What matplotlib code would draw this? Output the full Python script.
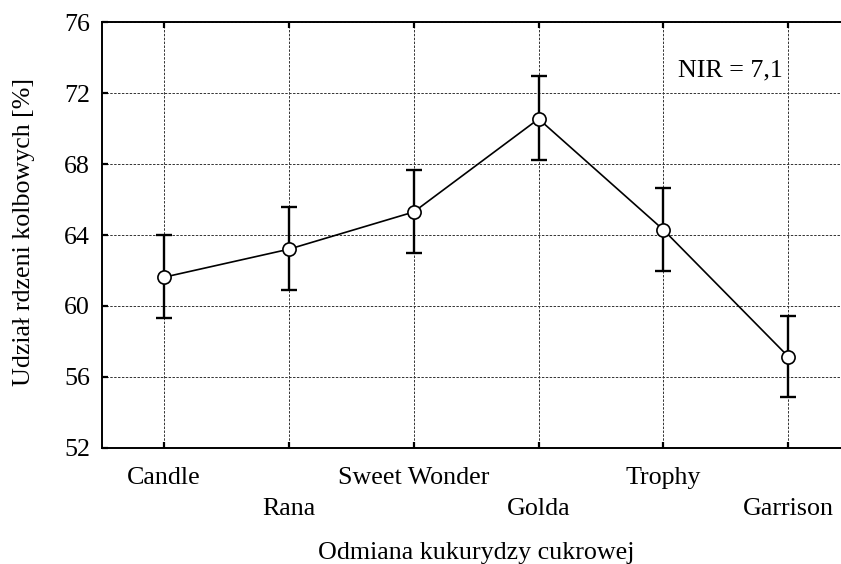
import matplotlib
matplotlib.use("Agg")
import matplotlib.pyplot as plt
import numpy as np

categories = ["Candle", "Rana", "Sweet Wonder", "Golda", "Trophy", "Garrison"]
means = [61.62, 63.2, 65.3, 70.55, 64.29, 57.14]
err_low = [2.3, 2.3, 2.3, 2.3, 2.3, 2.3]
err_high = [2.38, 2.4, 2.35, 2.42, 2.36, 2.3]
yticks = [52, 56, 60, 64, 68, 72, 76]
nir_text = "NIR = 7,1"
xlabel = "Odmiana kukurydzy cukrowej"
ylabel = "Udział rdzeni kolbowych [%]"

plt.rcParams['font.family'] = ['Liberation Serif', 'DejaVu Serif']
FS = 18.7
plt.rcParams['font.size'] = FS

fig = plt.figure(figsize=(8.41, 5.64), dpi=100)
ax = fig.add_axes([101.7/841, 1 - 447.7/564, 749/841, 425.4/564])

x = np.arange(len(categories))
ax.errorbar(x, means, yerr=[err_low, err_high], fmt='none', ecolor='black',
            elinewidth=1.7, capsize=5.5, capthick=1.7, zorder=3)
ax.plot(x, means, color='black', lw=1.2, marker='o', markersize=9.5,
        markerfacecolor='white', markeredgecolor='black', markeredgewidth=1.2, zorder=4)

ax.set_xlim(-0.5, len(categories) - 0.5)
ax.set_ylim(52, 76)
ax.set_yticks(yticks)
ax.set_yticklabels([str(v) for v in yticks])
ax.set_xticks(x)
ax.set_xticklabels(categories)

ax.grid(True, color='#333333', linestyle=(0, (2.5, 1.5)), linewidth=0.7)
ax.set_axisbelow(True)

for s in ax.spines.values():
    s.set_linewidth(1.4)

ax.tick_params(axis='both', direction='in', length=4, width=1.6, colors='black')
ax.tick_params(axis='x', top=True, bottom=True, pad=14)
ax.tick_params(axis='y', left=True, right=False, pad=8.5)

for i, t in enumerate(ax.xaxis.get_major_ticks()):
    if i % 2 == 1:
        t.set_pad(36.5)

ax.text(0.909, 0.872, nir_text, transform=ax.transAxes, ha='right', va='baseline',
        fontsize=FS, bbox=dict(facecolor='white', edgecolor='none', pad=1))

fig.text(476.5/841, 1 - 558.5/564, xlabel, ha='center', va='baseline', fontsize=FS)
fig.text(24/841, 1 - 232/564, ylabel, ha='center', va='center', rotation=90, fontsize=FS)

fig.savefig("out.png", dpi=100)
